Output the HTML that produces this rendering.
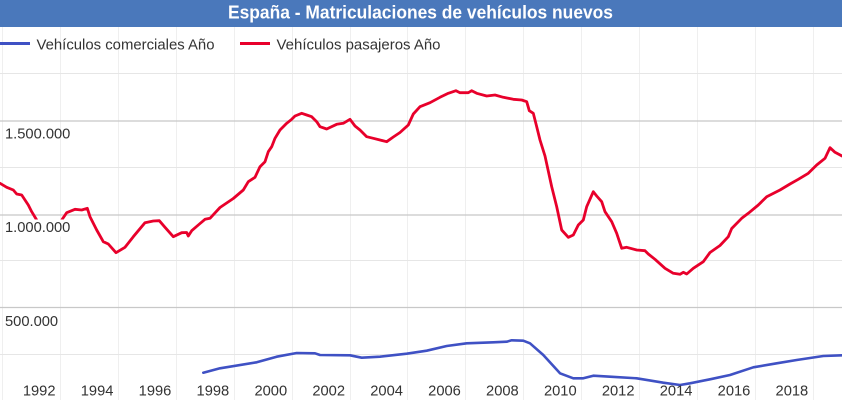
<!DOCTYPE html>
<html>
<head>
<meta charset="utf-8">
<style>
  html, body { margin: 0; padding: 0; background: #fff; }
  body { width: 842px; height: 400px; overflow: hidden; }
  svg { display: block; font-family: "Liberation Sans", Arial, sans-serif; }
</style>
</head>
<body>
<svg width="842" height="400" viewBox="0 0 842 400" xmlns="http://www.w3.org/2000/svg">
  <rect x="0" y="0" width="842" height="400" fill="#ffffff"/>
  <!-- title bar -->
  <rect x="0" y="0" width="842" height="27" fill="#4a78bb"/>
  <text x="420.5" y="18.5" text-anchor="middle" font-size="18" font-weight="bold" fill="#ffffff" textLength="385" lengthAdjust="spacingAndGlyphs">España - Matriculaciones de vehículos nuevos</text>

  <!-- vertical gridlines -->
  <g stroke="#efefef" stroke-width="1">
    <line x1="2.5" y1="27" x2="2.5" y2="400"/>
    <line x1="60.5" y1="27" x2="60.5" y2="400"/>
    <line x1="118.5" y1="27" x2="118.5" y2="400"/>
    <line x1="176.5" y1="27" x2="176.5" y2="400"/>
    <line x1="234.5" y1="27" x2="234.5" y2="400"/>
    <line x1="292.5" y1="27" x2="292.5" y2="400"/>
    <line x1="350.5" y1="27" x2="350.5" y2="400"/>
    <line x1="407.5" y1="27" x2="407.5" y2="400"/>
    <line x1="465.5" y1="27" x2="465.5" y2="400"/>
    <line x1="523.5" y1="27" x2="523.5" y2="400"/>
    <line x1="581.5" y1="27" x2="581.5" y2="400"/>
    <line x1="639.5" y1="27" x2="639.5" y2="400"/>
    <line x1="697.5" y1="27" x2="697.5" y2="400"/>
    <line x1="755.5" y1="27" x2="755.5" y2="400"/>
    <line x1="813.5" y1="27" x2="813.5" y2="400"/>
  </g>
  <!-- horizontal gridlines -->
  <g stroke="#e6e6e6" stroke-width="1">
    <line x1="0" y1="73.5" x2="842" y2="73.5"/>
    <line x1="0" y1="167.5" x2="842" y2="167.5"/>
    <line x1="0" y1="260.5" x2="842" y2="260.5"/>
    <line x1="0" y1="354.5" x2="842" y2="354.5"/>
  </g>
  <g stroke="#c8c8c8" stroke-width="1.3">
    <line x1="0" y1="121" x2="842" y2="121"/>
    <line x1="0" y1="215" x2="842" y2="215"/>
    <line x1="0" y1="307.5" x2="842" y2="307.5"/>
  </g>

  <!-- legend -->
  <line x1="0" y1="43.5" x2="30" y2="43.5" stroke="#3f51c4" stroke-width="3"/>
  <text x="36.5" y="49.5" font-size="15" fill="#333" textLength="178" lengthAdjust="spacingAndGlyphs">Vehículos comerciales Año</text>
  <line x1="240" y1="43.5" x2="270" y2="43.5" stroke="#e8002b" stroke-width="3"/>
  <text x="276.5" y="49.5" font-size="15" fill="#333" textLength="164" lengthAdjust="spacingAndGlyphs">Vehículos pasajeros Año</text>

  <!-- series -->
  <polyline fill="none" stroke="#3f51c4" stroke-width="2.6" stroke-linejoin="round" stroke-linecap="round"
    points="203.3,372.7 220,368.3 256.7,362.3 276.7,356.7 296.7,353 315,353.3 320,355 350,355.3 361.7,357.7 380,356.7 406.7,353.7 426.7,350.7 446.7,346 466.7,343.3 493.3,342.3 506.7,341.7 511.7,340.3 523.3,340.7 530,343.3 543.3,355 560,373.3 573.3,378.3 583.3,378.3 593.3,375.7 610,376.7 636.7,378.3 663.3,382.7 680,385 690,383.3 710,379.3 730,375 753.3,367.3 776.7,363.3 796.7,360 823.3,356 842,355.3"/>
  <polyline fill="none" stroke="#e8002b" stroke-width="2.8" stroke-linejoin="round" stroke-linecap="round"
    points="0,183.3 6.7,187.3 13.3,190 16.7,194 21.7,195 28.3,205 31.7,211.7 36.7,220 45,232 55,232 61.7,220 66.7,212.7 75,209.3 81.7,210 87.3,208.3 90,216.7 96.7,230 103.3,241.7 108.3,244 116,252.7 125,247.3 133.3,236.7 145,222.7 153.3,221 159.3,220.7 165,227.3 173.3,236.7 181.7,232.7 186.7,232.5 188.3,236 191.7,230.7 198.3,225 205,219.3 210,218.3 220,207.5 233.3,198.5 243.3,190 248.3,181.7 255,177.3 260,166.7 265,161.7 268.3,151.7 271.7,146.7 275,138.3 280,130 286.7,123.3 291.7,119.3 295,116 301.7,113.3 306.7,115 311.7,116.7 316.7,121.7 320,126.7 326.7,129 336.7,124.3 343.3,123.3 350,119.3 355,126 360,130 366.7,136.7 373.3,138.3 380,140 386.7,141.7 393.3,137 400,132.5 408.3,125 413.3,114 420,106.7 430,102.7 440,97.3 448.3,93.3 456,90.7 460,92.7 468.3,92.7 471.7,90.7 476.7,93.3 486.7,96 495,95 503.3,97.3 513.3,99.3 521.7,100 526.7,101.7 529.3,110.7 533.3,113.3 536.7,126.7 540,140 545,156 551.7,186.7 556.7,206.7 561.7,230 568.3,237.3 573.3,235 578.3,225 583.3,220 586.7,206.7 593.3,191.7 596.7,196 601.7,201.7 605,211.7 611.7,221.7 616.7,233.3 621.7,248.3 626.7,247.3 636.7,250 645,250.7 648.3,254 655,259.3 665,268.3 673.3,273.3 680,274.3 683.3,272.3 686.7,274 693.3,268.3 703.3,261.7 710,252.5 720,245.5 728.3,236.7 731.7,228.5 741.7,218.3 748.3,213.3 758.3,205 766.7,196.7 780,190 790,184 798.3,179.3 808.3,173.3 816.7,165 825,158.3 830,147.7 835,152.3 842,156"/>

  <!-- y axis labels (with background boxes) -->
  <rect x="3" y="219.5" width="70" height="17" fill="#ffffff"/>
  <g font-size="14.7" fill="#333">
    <text x="5" y="138.5">1.500.000</text>
    <text x="5" y="232">1.000.000</text>
    <text x="5" y="326">500.000</text>
  </g>

  <!-- x axis labels -->
  <g font-size="14.7" fill="#333" text-anchor="middle">
    <text x="39.2" y="395.5">1992</text>
    <text x="97.1" y="395.5">1994</text>
    <text x="155" y="395.5">1996</text>
    <text x="212.9" y="395.5">1998</text>
    <text x="270.8" y="395.5">2000</text>
    <text x="328.7" y="395.5">2002</text>
    <text x="386.6" y="395.5">2004</text>
    <text x="444.5" y="395.5">2006</text>
    <text x="502.4" y="395.5">2008</text>
    <text x="560.3" y="395.5">2010</text>
    <text x="618.2" y="395.5">2012</text>
    <text x="676.1" y="395.5">2014</text>
    <text x="734" y="395.5">2016</text>
    <text x="791.9" y="395.5">2018</text>
  </g>
</svg>
</body>
</html>
